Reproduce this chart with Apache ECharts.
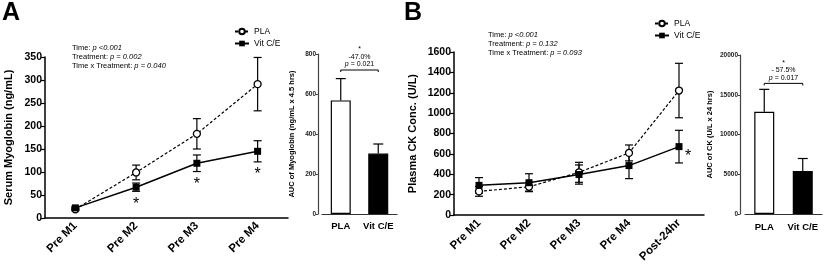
<!DOCTYPE html>
<html>
<head>
<meta charset="utf-8">
<script src="https://cdn.jsdelivr.net/npm/echarts@6/dist/echarts.min.js"></script>
<style>
  html, body { margin: 0; padding: 0; background: #fff; }
  #chart { width: 824px; height: 265px; }
</style>
</head>
<body>
<div id="chart"></div>
<script>
// panel A - myoglobin
var catsA = ['Pre M1', 'Pre M2', 'Pre M3', 'Pre M4']
var plaA = [19, 99, 183, 291]
var plaASe = [3, 16, 33, 58]
var vitA = [22, 67, 119, 145]
var vitASe = [3, 9, 18, 23]
var starA = [1, 2, 3]
var aucCats = ['PLA', 'Vit C/E']
var aucA = [568, 302]
var aucASe = [109, 48]
var bracketA = 720
var noteA = ['*', '-47.0%', '{i|p} = 0.021']
var statsA = ['Time: {i|p <0.001}', 'Treatment: {i|p = 0.002}', 'Time x Treatment: {i|p = 0.040}']

// panel B - CK
var catsB = ['Pre M1', 'Pre M2', 'Pre M3', 'Pre M4', 'Post-24hr']
var plaB = [233, 278, 420, 610, 1222]
var plaBSe = [48, 43, 98, 78, 267]
var vitB = [292, 318, 398, 486, 672]
var vitBSe = [76, 88, 94, 128, 160]
var starB = [4]
var aucB = [12850, 5420]
var aucBSe = [2830, 1560]
var bracketB = 16430
var noteB = ['*', '- 57.5%', '{i|p} = 0.017']
var statsB = ['Time: {i|p <0.001}', 'Treatment: {i|p = 0.132}', 'Time x Treatment: {i|p = 0.093}']

var font = 'Liberation Sans, Arial, sans-serif'

function plain (v) {
  return String(v)
}

function errBars (upperOnly, hw) {
  return function (params, api) {
    var x = api.value(0)
    var m = api.value(1)
    var e = api.value(2)
    var t = api.coord([x, m + e])
    var b = api.coord([x, upperOnly ? m : m - e])
    var st = { stroke: '#000', lineWidth: 1.2 }
    var kids = [
      { type: 'line', shape: { x1: t[0], y1: t[1], x2: b[0], y2: b[1] }, style: st },
      { type: 'line', shape: { x1: t[0] - hw, y1: t[1], x2: t[0] + hw, y2: t[1] }, style: st }
    ]
    if (!upperOnly) {
      kids.push({ type: 'line', shape: { x1: b[0] - hw, y1: b[1], x2: b[0] + hw, y2: b[1] }, style: st })
    }
    return { type: 'group', children: kids }
  }
}

function stars (dx, dy) {
  return function (params, api) {
    var p = api.coord([api.value(0), api.value(1)])
    return {
      type: 'text',
      x: p[0] + dx,
      y: p[1] + dy,
      style: { text: '*', fontSize: 16, fontFamily: font, fill: '#000', align: 'center', verticalAlign: 'middle' }
    }
  }
}

function bracket (lines) {
  return function (params, api) {
    var a = api.coord([api.value(0), api.value(2)])
    var b = api.coord([api.value(1), api.value(2)])
    var st = { stroke: '#000', lineWidth: 1 }
    var cx = (a[0] + b[0]) / 2
    return {
      type: 'group',
      children: [
        { type: 'line', shape: { x1: a[0], y1: a[1], x2: b[0], y2: b[1] }, style: st },
        { type: 'line', shape: { x1: a[0], y1: a[1], x2: a[0], y2: a[1] + 2 }, style: st },
        { type: 'line', shape: { x1: b[0], y1: b[1], x2: b[0], y2: b[1] + 2 }, style: st },
        {
          type: 'text',
          x: cx,
          y: a[1] - 2,
          style: {
            text: lines.join('\n'),
            fontSize: 7,
            lineHeight: 7.5,
            fontFamily: font,
            fill: '#000',
            align: 'center',
            verticalAlign: 'bottom',
            rich: { i: { fontStyle: 'italic', fontSize: 7, fontFamily: font } }
          }
        }
      ]
    }
  }
}

function lineX (idx, cats) {
  return {
    type: 'category',
    gridIndex: idx,
    data: cats,
    boundaryGap: true,
    axisLine: { lineStyle: { color: '#000', width: 1.5 } },
    axisTick: { alignWithLabel: true, length: 4, lineStyle: { color: '#000', width: 1.2 } },
    axisLabel: { interval: 0, rotate: 45, fontSize: 11.5, fontWeight: 'bold', color: '#000', fontFamily: font, margin: 6 }
  }
}

function lineY (idx, max, step, name, gap) {
  return {
    type: 'value',
    gridIndex: idx,
    min: 0,
    max: max,
    interval: step,
    name: name,
    nameLocation: 'middle',
    nameGap: gap,
    nameTextStyle: { fontSize: 11, fontWeight: 'bold', color: '#000', fontFamily: font },
    splitLine: { show: false },
    axisLine: { show: true, lineStyle: { color: '#000', width: 1.5 } },
    axisTick: { show: true, length: 4, lineStyle: { color: '#000', width: 1.2 } },
    axisLabel: { formatter: plain, fontSize: 10.5, fontWeight: 'bold', color: '#000', fontFamily: font, margin: 3 }
  }
}

function barX (idx, off) {
  return {
    type: 'category',
    gridIndex: idx,
    data: aucCats,
    offset: off,
    axisLine: { lineStyle: { color: '#333', width: 1.2 } },
    axisTick: { show: false },
    axisLabel: { interval: 0, fontSize: 9.5, fontWeight: 'bold', color: '#000', fontFamily: font, margin: 3 }
  }
}

function barY (idx, max, step, name, gap, off) {
  return {
    type: 'value',
    gridIndex: idx,
    min: 0,
    max: max,
    interval: step,
    offset: off,
    name: name,
    nameLocation: 'middle',
    nameGap: gap,
    nameTextStyle: { fontSize: 7.5, fontWeight: 'bold', color: '#000', fontFamily: font },
    splitLine: { show: false },
    axisLine: { show: true, lineStyle: { color: '#444', width: 1.2 } },
    axisTick: { show: true, length: 2, lineStyle: { color: '#444' } },
    axisLabel: { formatter: plain, fontSize: 6.5, fontWeight: 'bold', color: '#222', fontFamily: font, margin: 2 }
  }
}

function pla (xi, data) {
  return {
    name: 'PLA',
    type: 'line',
    xAxisIndex: xi,
    yAxisIndex: xi,
    data: data,
    z: 4,
    symbol: 'circle',
    symbolSize: 7,
    lineStyle: { color: '#000', width: 1.2, type: [3, 2] },
    itemStyle: { color: '#fff', borderColor: '#000', borderWidth: 1.3 }
  }
}

function vit (xi, data) {
  return {
    name: 'Vit C/E',
    type: 'line',
    xAxisIndex: xi,
    yAxisIndex: xi,
    data: data,
    z: 5,
    symbol: 'rect',
    symbolSize: 7,
    lineStyle: { color: '#000', width: 1.5 },
    itemStyle: { color: '#000' }
  }
}

function errSeries (xi, means, ses, upperOnly, hw) {
  return {
    type: 'custom',
    xAxisIndex: xi,
    yAxisIndex: xi,
    z: 3,
    renderItem: errBars(upperOnly, hw),
    data: means.map(function (v, i) { return [i, v, ses[i]] })
  }
}

function legend (left, top) {
  return {
    data: ['PLA', 'Vit C/E'],
    orient: 'vertical',
    left: left,
    top: top,
    itemWidth: 14,
    itemHeight: 7,
    itemGap: 3,
    padding: 0,
    textStyle: { fontSize: 8.5, color: '#000', fontFamily: font }
  }
}

function stats (lines, left, top) {
  return {
    text: lines.join('\n'),
    left: left,
    top: top,
    padding: 0,
    textStyle: {
      fontSize: 7.5,
      lineHeight: 9.3,
      fontWeight: 'normal',
      color: '#000',
      fontFamily: font,
      rich: { i: { fontStyle: 'italic', fontSize: 7.5, fontFamily: font, color: '#000' } }
    }
  }
}

var chart = echarts.init(document.getElementById('chart'))
chart.setOption({
  animation: false,
  backgroundColor: '#fff',
  title: [
    { text: 'A', left: 2, top: 1, padding: 0, textStyle: { fontSize: 25, fontWeight: 'bold', color: '#000', fontFamily: font } },
    { text: 'B', left: 404, top: 1, padding: 0, textStyle: { fontSize: 25, fontWeight: 'bold', color: '#000', fontFamily: font } },
    stats(statsA, 72, 43),
    stats(statsB, 488, 30)
  ],
  legend: [legend(234, 27), legend(654, 19)],
  grid: [
    { left: 45, top: 57, width: 243, height: 161 },
    { left: 322, top: 54, width: 75, height: 160 },
    { left: 454, top: 52, width: 250, height: 166 },
    { left: 745, top: 55, width: 77, height: 159 }
  ],
  xAxis: [lineX(0, catsA), barX(1, 4), lineX(2, catsB), barX(3, 5)],
  yAxis: [
    lineY(0, 350, 50, 'Serum Myoglobin (ng/mL)', 31),
    barY(1, 800, 200, 'AUC of Myoglobin (ng/mL x 4.5 hrs)', 22, 4),
    lineY(2, 1600, 200, 'Plasma CK Conc. (U/L)', 36),
    barY(3, 20000, 5000, 'AUC of CK (U/L x 24 hrs)', 26, 5)
  ],
  series: [
    errSeries(0, plaA, plaASe, false, 4),
    errSeries(0, vitA, vitASe, false, 4),
    pla(0, plaA),
    vit(0, vitA),
    {
      type: 'custom',
      xAxisIndex: 0,
      yAxisIndex: 0,
      renderItem: stars(0, 13),
      data: starA.map(function (i) { return [i, vitA[i] - vitASe[i]] })
    },
    {
      name: 'AUC',
      type: 'bar',
      xAxisIndex: 1,
      yAxisIndex: 1,
      barWidth: 20,
      data: aucA.map(function (v, i) {
        return { value: v, itemStyle: { color: i === 0 ? '#fff' : '#000', borderColor: '#000', borderWidth: 1.2 } }
      })
    },
    errSeries(1, aucA, aucASe, true, 5),
    {
      type: 'custom',
      xAxisIndex: 1,
      yAxisIndex: 1,
      renderItem: bracket(noteA),
      data: [[0, 1, bracketA]]
    },
    errSeries(2, plaB, plaBSe, false, 4),
    errSeries(2, vitB, vitBSe, false, 4),
    pla(2, plaB),
    vit(2, vitB),
    {
      type: 'custom',
      xAxisIndex: 2,
      yAxisIndex: 2,
      renderItem: stars(9, 10),
      data: starB.map(function (i) { return [i, vitB[i]] })
    },
    {
      name: 'AUC CK',
      type: 'bar',
      xAxisIndex: 3,
      yAxisIndex: 3,
      barWidth: 20,
      data: aucB.map(function (v, i) {
        return { value: v, itemStyle: { color: i === 0 ? '#fff' : '#000', borderColor: '#000', borderWidth: 1.2 } }
      })
    },
    errSeries(3, aucB, aucBSe, true, 5),
    {
      type: 'custom',
      xAxisIndex: 3,
      yAxisIndex: 3,
      renderItem: bracket(noteB),
      data: [[0, 1, bracketB]]
    }
  ]
})
</script>
</body>
</html>
